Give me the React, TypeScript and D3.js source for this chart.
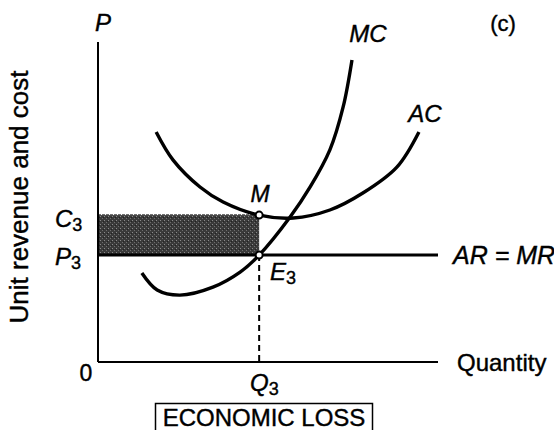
import React from 'react';
import * as d3 from 'd3';

// curve points (quantity, unit cost), axis units 0..100
const acCurve: [number, number][] = [
  [17.1, 71.9], [22.1, 63.1], [30.0, 54.7], [36.8, 50.0], [47.4, 45.9],
  [57.4, 45.0], [68.2, 47.5], [77.9, 52.8], [87.9, 60.9], [94.4, 71.9],
];
const mcCurve: [number, number][] = [
  [12.9, 27.8], [17.4, 22.5], [24.1, 20.9], [33.8, 23.4], [41.8, 28.1],
  [47.4, 33.4], [56.5, 45.3], [62.4, 54.7], [68.2, 66.3], [72.1, 79.7], [74.7, 94.4],
];
const q3 = 47.4;
const c3 = 45.9;
const p3 = 33.4;
const qMax = 100;
const pMax = 100;

const font = '"Liberation Sans", Arial, sans-serif';

const App = () => {
  const width = 554;
  const height = 430;
  const x = d3.scaleLinear().domain([0, qMax]).range([98, 438]);
  const y = d3.scaleLinear().domain([0, pMax]).range([362, 42]);

  const line = d3.line<[number, number]>()
    .x(d => x(d[0]))
    .y(d => y(d[1]))
    .curve(d3.curveCatmullRom.alpha(0.5));

  return (
    <svg width={width} height={height} style={{ position: 'absolute', left: 0, top: 0, background: '#fff' }}>
      <defs>
        <pattern id="stipple" width="4" height="4" patternUnits="userSpaceOnUse">
          <rect width="4" height="4" fill="#3a3a3a" />
          <rect x="0" y="0" width="1" height="1" fill="#8a8a8a" />
          <rect x="2" y="2" width="1" height="1" fill="#6e6e6e" />
          <rect x="3" y="1" width="1" height="1" fill="#222" />
        </pattern>
      </defs>

      {/* economic loss area */}
      <rect x={x(0)} y={y(c3)} width={x(q3) - x(0)} height={y(p3) - y(c3)} fill="url(#stipple)" />
      <line x1={x(0)} x2={x(q3)} y1={y(c3)} y2={y(c3)} stroke="#444" strokeWidth={1.5} strokeDasharray="3,1" />

      {/* axes */}
      <line x1={x(0)} x2={x(0)} y1={y(pMax)} y2={y(0)} stroke="#000" strokeWidth={2} />
      <line x1={x(0)} x2={x(qMax)} y1={y(0)} y2={y(0)} stroke="#000" strokeWidth={2} />

      {/* AR = MR */}
      <line x1={x(0)} x2={x(qMax)} y1={y(p3)} y2={y(p3)} stroke="#000" strokeWidth={3} />

      {/* dashed to Q3 */}
      <line x1={x(q3)} x2={x(q3)} y1={y(p3)} y2={y(0)} stroke="#000" strokeWidth={2} strokeDasharray="6,4" />

      <path d={line(acCurve) || ''} fill="none" stroke="#000" strokeWidth={3.4} />
      <path d={line(mcCurve) || ''} fill="none" stroke="#000" strokeWidth={3.4} />

      <circle cx={x(q3)} cy={y(c3)} r={3.5} fill="#fff" stroke="#000" strokeWidth={2} />
      <circle cx={x(q3)} cy={y(p3)} r={3.5} fill="#fff" stroke="#000" strokeWidth={2} />

      <g fontFamily={font} fill="#000" stroke="#000" strokeWidth={0.4}>
        <text x={103} y={31} fontSize={24} fontStyle="italic" textAnchor="middle">P</text>
        <text x={368} y={42} fontSize={24} fontStyle="italic" textAnchor="middle">MC</text>
        <text x={425} y={122} fontSize={24} fontStyle="italic" textAnchor="middle">AC</text>
        <text x={503} y={31} fontSize={22} textAnchor="middle">(c)</text>
        <text x={260} y={202} fontSize={23} fontStyle="italic" textAnchor="middle">M</text>
        <text x={270} y={280} fontSize={24} fontStyle="italic">E<tspan fontSize={18} fontStyle="normal" dy={4}>3</tspan></text>
        <text x={55} y={227} fontSize={24} fontStyle="italic">C<tspan fontSize={18} fontStyle="normal" dy={4}>3</tspan></text>
        <text x={55} y={265} fontSize={24} fontStyle="italic">P<tspan fontSize={18} fontStyle="normal" dy={4}>3</tspan></text>
        <text x={86} y={381} fontSize={23} textAnchor="middle">0</text>
        <text x={250} y={391} fontSize={24} fontStyle="italic">Q<tspan fontSize={18} fontStyle="normal" dy={4}>3</tspan></text>
        <text x={453} y={264} fontSize={25} fontStyle="italic">AR = MR</text>
        <text x={457} y={371} fontSize={24}>Quantity</text>
        <text transform="translate(28,197) rotate(-90)" fontSize={26} textAnchor="middle">Unit revenue and cost</text>
        <text x={264} y={426} fontSize={24} textAnchor="middle">ECONOMIC LOSS</text>
      </g>

      <rect x={155.5} y={403.5} width={217} height={30} fill="none" stroke="#000" strokeWidth={1.5} />
    </svg>
  );
};

export default App;
